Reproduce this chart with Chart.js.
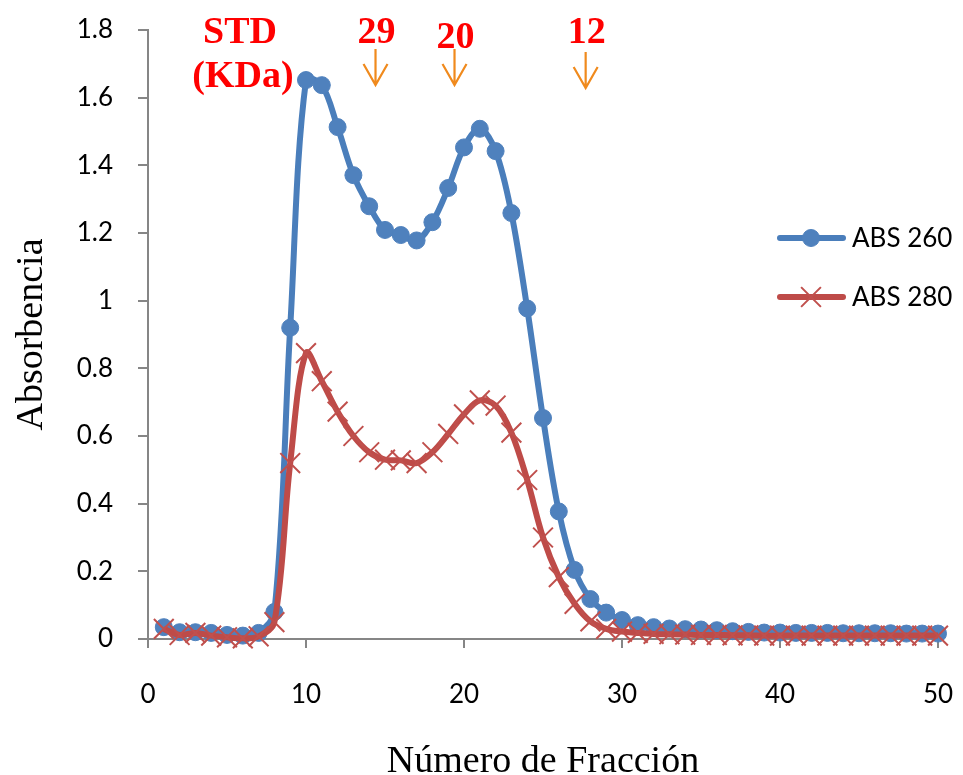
<!DOCTYPE html>
<html>
<head>
<meta charset="utf-8">
<script src="https://cdn.jsdelivr.net/npm/chart.js@4/dist/chart.umd.min.js"></script>
<style>
  html, body { margin: 0; padding: 0; background: #fff; }
  canvas { display: block; }
</style>
</head>
<body>
<canvas id="chart" width="963" height="775"></canvas>
<script>
/* ─── DATA ────────────────────────────────────────────────── */
const fractions = [
   1,  2,  3,  4,  5,  6,  7,  8,  9, 10,
  11, 12, 13, 14, 15, 16, 17, 18, 19, 20,
  21, 22, 23, 24, 25, 26, 27, 28, 29, 30,
  31, 32, 33, 34, 35, 36, 37, 38, 39, 40,
  41, 42, 43, 44, 45, 46, 47, 48, 49, 50,
];

const abs260 = [
  0.035, 0.020, 0.020, 0.018, 0.012, 0.010, 0.018, 0.080, 0.920, 1.652,
  1.637, 1.513, 1.371, 1.279, 1.209, 1.194, 1.178, 1.232, 1.333, 1.453,
  1.508, 1.442, 1.259, 0.977, 0.653, 0.377, 0.204, 0.118, 0.078, 0.056,
  0.041, 0.035, 0.031, 0.029, 0.028, 0.026, 0.023, 0.021, 0.019, 0.019,
  0.018, 0.018, 0.018, 0.017, 0.017, 0.017, 0.017, 0.016, 0.016, 0.016,
];

const abs280 = [
  0.030, 0.012, 0.018, 0.010, 0.005, 0.002, 0.008, 0.050, 0.520, 0.845,
  0.762, 0.672, 0.600, 0.552, 0.530, 0.528, 0.520, 0.552, 0.606, 0.664,
  0.705, 0.690, 0.610, 0.470, 0.300, 0.183, 0.104, 0.052, 0.030, 0.022,
  0.018, 0.015, 0.014, 0.013, 0.012, 0.012, 0.011, 0.011, 0.010, 0.010,
  0.010, 0.010, 0.010, 0.010, 0.010, 0.010, 0.010, 0.010, 0.010, 0.010,
];

const seriesNames = ['ABS 260', 'ABS 280'];
const xTicks = [0, 10, 20, 30, 40, 50];
const yTicks = [0, 0.2, 0.4, 0.6, 0.8, 1, 1.2, 1.4, 1.6, 1.8];

// molecular-weight standards marked above the peaks (fraction, kDa)
const stdTitle    = ['STD', '(KDa)'];
const stdLabels   = ['29', '20', '12'];
const stdFraction = [14.4, 19.4, 27.7];

/* ─── STYLE ───────────────────────────────────────────────── */
const BLUE      = '#4A7EBB';
const BLUE_PT   = '#4F81BD';
const RED       = '#BE4B48';
const RED_PT    = '#C0504D';
const AXIS      = '#868686';
const ORANGE    = '#F08A1D';
const SANS      = 'Lato, "Liberation Sans", sans-serif';
const SERIF     = '"Liberation Serif", "DejaVu Serif", serif';

/* ─── PLUGINS ─────────────────────────────────────────────── */
const legendPlugin = {
  id: 'sideLegend',
  afterDraw(chart) {
    const c = chart.ctx;
    const rows = [
      { y: 238, color: BLUE, pt: BLUE_PT, style: 'circle',   r: 8.5, bw: 1 },
      { y: 297, color: RED,  pt: RED_PT,  style: 'crossRot', r: 14,  bw: 2 },
    ];
    c.save();
    rows.forEach((row, i) => {
      c.strokeStyle = row.color;
      c.lineWidth = 6;
      c.lineCap = 'round';
      c.beginPath();
      c.moveTo(780, row.y);
      c.lineTo(843, row.y);
      c.stroke();
      c.lineCap = 'butt';
      c.fillStyle = row.pt;
      c.strokeStyle = row.pt;
      c.lineWidth = row.bw;
      Chart.helpers.drawPoint(c, { pointStyle: row.style, radius: row.r, borderWidth: row.bw }, 811, row.y);
      c.fillStyle = '#000';
      c.font = '26px ' + SANS;
      c.textAlign = 'left';
      c.textBaseline = 'middle';
      c.fillText(seriesNames[i], 852, row.y + 1);
    });
    c.restore();
  },
};

const stdPlugin = {
  id: 'stdMarks',
  afterDraw(chart) {
    const c = chart.ctx;
    const xs = chart.scales.x;
    c.save();
    c.fillStyle = '#FF0000';
    c.font = 'bold 38px ' + SERIF;
    c.textAlign = 'center';
    c.textBaseline = 'alphabetic';
    c.fillText(stdTitle[0], 240, 43);
    c.fillText(stdTitle[1], 243, 87);

    const labelBase = [43, 48, 43];
    const arrowTop  = [49, 49, 52];
    stdLabels.forEach((lab, i) => {
      const x = xs.getPixelForValue(stdFraction[i]);
      c.fillStyle = '#FF0000';
      c.fillText(lab, x + 1, labelBase[i]);
      const y0 = arrowTop[i], y1 = y0 + 36;
      c.strokeStyle = ORANGE;
      c.lineWidth = 2.2;
      c.beginPath();
      c.moveTo(x, y0);
      c.lineTo(x, y1);
      c.moveTo(x - 12, y1 - 21);
      c.lineTo(x, y1);
      c.lineTo(x + 12, y1 - 21);
      c.stroke();
    });
    c.restore();
  },
};

/* ─── CHART ───────────────────────────────────────────────── */
const ctx = document.getElementById('chart').getContext('2d');

new Chart(ctx, {
  type: 'line',
  data: {
    datasets: [
      {
        label: seriesNames[0],
        data: fractions.map((f, i) => ({ x: f, y: abs260[i] })),
        borderColor: BLUE,
        borderWidth: 6,
        tension: 0.35,
        pointStyle: 'circle',
        pointRadius: 8.5,
        pointBackgroundColor: BLUE_PT,
        pointBorderColor: BLUE_PT,
        pointBorderWidth: 1,
        order: 1,
      },
      {
        label: seriesNames[1],
        data: fractions.map((f, i) => ({ x: f, y: abs280[i] })),
        borderColor: RED,
        borderWidth: 6,
        tension: 0.35,
        pointStyle: 'crossRot',
        pointRadius: 14,
        pointBorderColor: RED_PT,
        pointBackgroundColor: RED_PT,
        pointBorderWidth: 2,
        order: 0,
      },
    ],
  },
  options: {
    responsive: false,
    animation: false,
    devicePixelRatio: 1,
    clip: false,
    layout: { padding: { top: 30, right: 25, left: 0, bottom: 0 } },
    plugins: {
      legend: { display: false },
      tooltip: { enabled: false },
    },
    scales: {
      x: {
        type: 'linear',
        min: 0,
        max: 50,
        afterFit: s => { s.height = 136; s.paddingLeft = 0; s.paddingRight = 0; },
        afterBuildTicks: s => { s.ticks = xTicks.map(v => ({ value: v })); },
        grid: { drawOnChartArea: false, drawTicks: true, tickLength: 9, color: AXIS, lineWidth: 2 },
        border: { display: true, color: AXIS, width: 2 },
        ticks: {
          color: '#000',
          font: { family: SANS, size: 26 },
          padding: 31,
          maxRotation: 0,
          autoSkip: false,
        },
        title: {
          display: true,
          text: 'Número de Fracción',
          color: '#000',
          font: { family: SERIF, size: 38, lineHeight: 1 },
          padding: { top: 0, bottom: -6 },
        },
      },
      y: {
        min: 0,
        max: 1.8,
        afterFit: s => { s.width = 148; s.paddingTop = 0; s.paddingBottom = 0; },
        afterBuildTicks: s => { s.ticks = yTicks.map(v => ({ value: v })); },
        grid: { drawOnChartArea: false, drawTicks: true, tickLength: 10, color: AXIS, lineWidth: 2 },
        border: { display: true, color: AXIS, width: 2 },
        ticks: {
          color: '#000',
          font: { family: SANS, size: 26 },
          padding: 25,
          autoSkip: false,
          callback: v => String(Math.round(v * 10) / 10),
        },
        title: {
          display: true,
          text: 'Absorbencia',
          color: '#000',
          font: { family: SERIF, size: 38, lineHeight: 1 },
          padding: { top: 13, bottom: 0 },
        },
      },
    },
  },
  plugins: [legendPlugin, stdPlugin],
});
</script>
</body>
</html>
